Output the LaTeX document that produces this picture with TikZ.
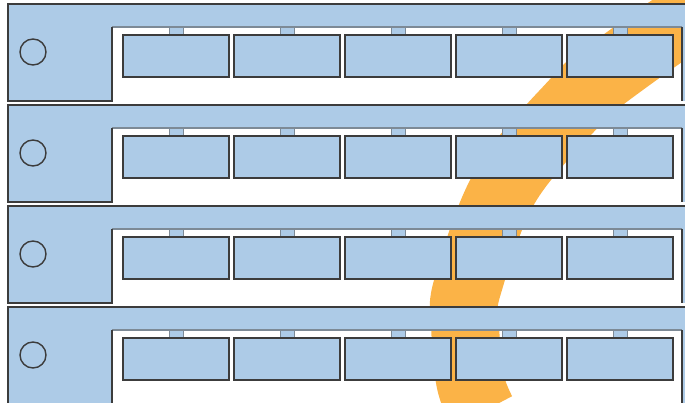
\documentclass[tikz,border=0pt]{standalone}
\usepackage{tikz}
\definecolor{trayblue}{HTML}{ADCBE7}
\definecolor{edgedark}{HTML}{3C3C3C}
\definecolor{edgegrey}{HTML}{7D8A96}
\definecolor{orng}{HTML}{FBB347}
\tikzset{
  trayfill/.style={fill=trayblue},
  trayedge/.style={draw=edgedark, line width=1.5pt},
  baredge/.style={draw=edgegrey, line width=1.2pt},
  portbox/.style={fill=trayblue, draw=edgedark, line width=1.2pt},
  tabbox/.style={fill=trayblue, draw=edgegrey, line width=0.8pt},
  led/.style={draw=edgedark, line width=1.4pt},
  band/.style={draw=orng, line width=68pt}
}
\begin{document}
\begin{tikzpicture}[x=1pt,y=-1pt]
\useasboundingbox (0,0) rectangle (685,403);
\clip (0,0) rectangle (685,403);
% orange band behind everything
\draw[band] plot[smooth, tension=0.6] coordinates {(735,-12) (673,27) (602,78) (577,100) (506,185) (468,285) (465,322) (470,380) (482,412)};
% trays
\foreach \t in {4,105,206,307} {
  \fill[trayfill] (8,\t) -- (690,\t) -- (690,\t+23) -- (112,\t+23) -- (112,\t+97) -- (8,\t+97) -- cycle;
  \fill[trayfill] (682,\t+23) rectangle (690,\t+97);
  \draw[baredge] (112,\t+23) -- (682,\t+23);
  \draw[trayedge] (690,\t) -- (8,\t) -- (8,\t+97) -- (112,\t+97) -- (112,\t+23);
  \draw[trayedge] (682,\t+23) -- (682,\t+97);
  \draw[led] (33,\t+48) circle (13);
  \foreach \i in {0,...,4} {
    \pgfmathsetmacro{\xa}{123+111*\i}
    \draw[tabbox] (\xa+46,\t+23) rectangle (\xa+60,\t+31);
    \draw[portbox] (\xa,\t+31) rectangle (\xa+106,\t+73);
  }
}
\end{tikzpicture}
\end{document}
